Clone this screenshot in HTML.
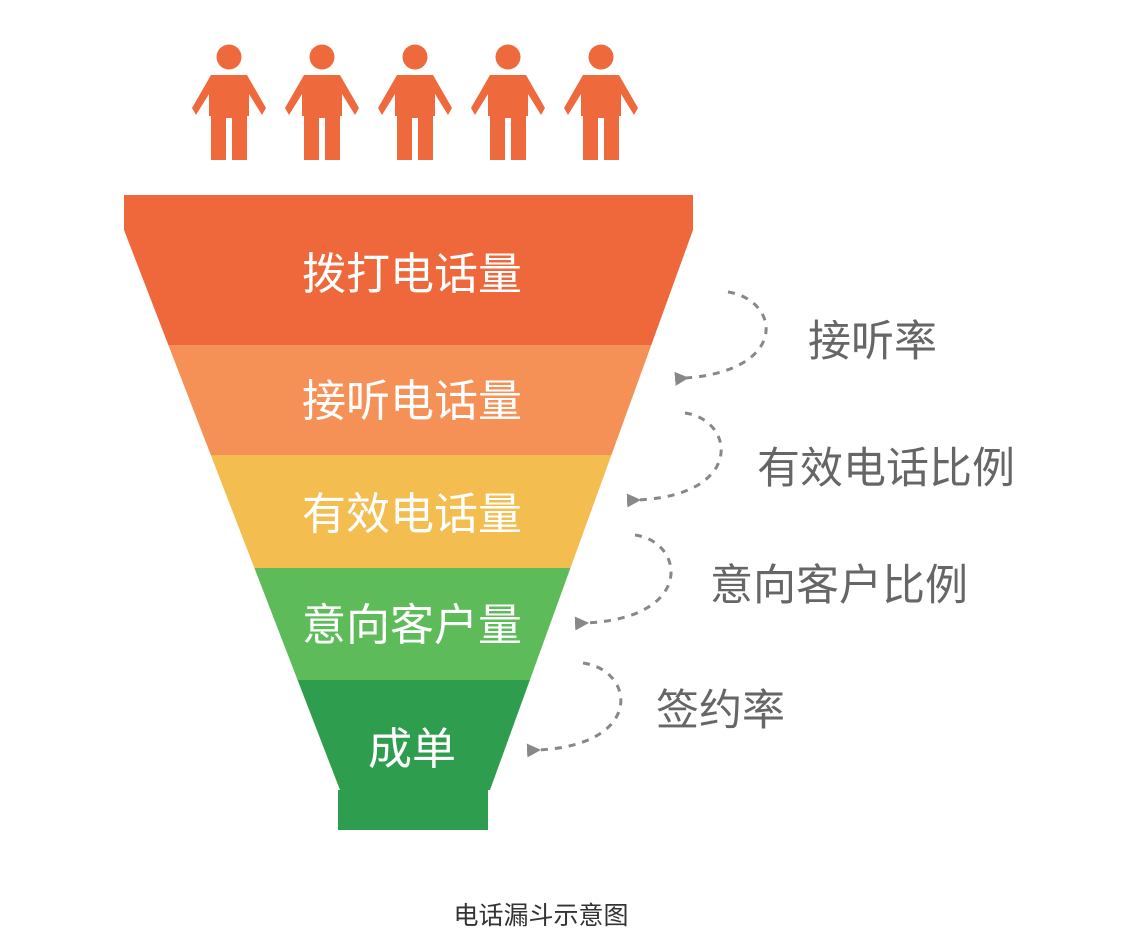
<!DOCTYPE html>
<html><head><meta charset="utf-8"><style>
body{margin:0;background:#fff;}
svg text{font-family:"Liberation Sans","Noto Sans CJK SC",sans-serif;}
</style></head><body>
<svg width="1128" height="946" viewBox="0 0 1128 946" xmlns="http://www.w3.org/2000/svg">
<defs>
<g id="p">
<circle cx="0" cy="57" r="12.5"/>
<path d="M-18,75 L18,75 L37,108 L33,115 L20,94 L20,116 L18,116 L18,160 L3,160 L3,118 L-3,118 L-3,160 L-18,160 L-18,116 L-20,116 L-20,94 L-33,115 L-37,108 Z"/>
</g>
<clipPath id="f"><path d="M124,195 L693,195 L693,230 L490,790 L488,790 L488,830 L338,830 L338,790 L340,790 L124,230 Z"/></clipPath>
<marker id="ah" markerUnits="userSpaceOnUse" markerWidth="14" markerHeight="14" refX="3" refY="7" orient="auto"><path d="M14,0 L0,7 L14,14 Z" fill="#888"/></marker>
</defs>
<g fill="#EE6A3C">
<use href="#p" x="229"/><use href="#p" x="322"/><use href="#p" x="415"/><use href="#p" x="508"/><use href="#p" x="601"/>
</g>
<g clip-path="url(#f)">
<rect x="100" y="195" width="620" height="150" fill="#EE683C"/>
<rect x="100" y="345" width="620" height="110" fill="#F59156"/>
<rect x="100" y="455" width="620" height="113" fill="#F3BE4F"/>
<rect x="100" y="568" width="620" height="112" fill="#5DBB5A"/>
<rect x="100" y="680" width="620" height="150" fill="#2E9E4E"/>
</g>
<g fill="#fff" font-size="44" text-anchor="middle">
<text x="412" y="289">拨打电话量</text>
<text x="412" y="416">接听电话量</text>
<text x="412" y="529">有效电话量</text>
<text x="412" y="640">意向客户量</text>
<text x="412" y="764">成单</text>
</g>
<g fill="none" stroke="#888" stroke-width="3" stroke-dasharray="7,7" marker-end="url(#ah)">
<path d="M728,292 C780,300 790,370 686,378"/>
<path d="M685,413 C735,420 745,495 638,500"/>
<path d="M635,535 C685,542 695,618 586,623"/>
<path d="M583,663 C635,670 645,745 538,750"/>
</g>
<g fill="#666" font-size="43">
<text x="808" y="356">接听率</text>
<text x="757" y="483">有效电话比例</text>
<text x="710" y="600">意向客户比例</text>
<text x="656" y="725">签约率</text>
</g>
<text x="541" y="924" font-size="25" fill="#333" text-anchor="middle">电话漏斗示意图</text>
</svg>
</body></html>
